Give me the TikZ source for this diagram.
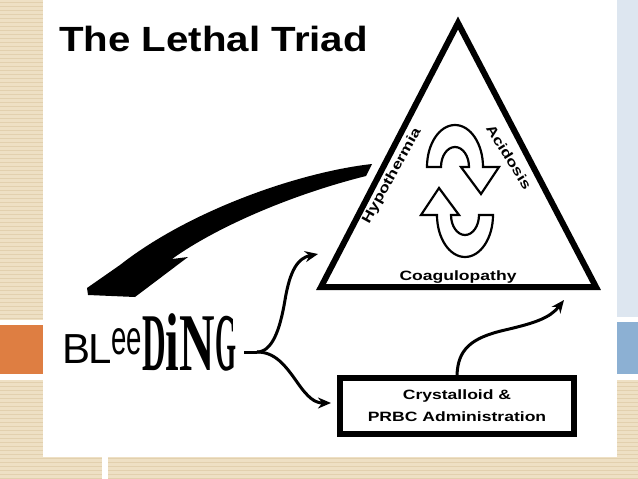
\documentclass[tikz,border=0pt]{standalone}
\usepackage{fontspec}
\usepackage{graphicx}
\setmainfont{Liberation Sans}
\newfontfamily\spookyfont{Liberation Serif}
\newcommand{\wide}[1]{\scalebox{1.3}[1]{\bfseries #1}}
\usetikzlibrary{positioning, arrows.meta, calc}
\definecolor{slidebeige}{RGB}{238,224,196}
\definecolor{stripebeige}{RGB}{226,208,174}
\definecolor{paleblue}{RGB}{221,230,240}
\definecolor{slideblue}{RGB}{140,176,211}
\definecolor{slideorange}{RGB}{222,126,66}
\tikzset{
  triadtext/.style={inner sep=0, font=\fontsize{13.5}{22}\selectfont},
  flow/.style     ={line width=3pt, -{Stealth[length=13pt, width=11pt]}},
  wire/.style     ={line width=3pt},
  cyclearrow/.style={draw, line width=2.2pt, fill=white, line join=miter}
}

\begin{document}
\begin{tikzpicture}[x=1pt, y=-1pt]
  \useasboundingbox (0,0) rectangle (638,479);
  % slide background
  \fill[slidebeige] (0,0) rectangle (638,479);
  \foreach \y in {2,6,...,478}
    \draw[stripebeige, line width=1pt] (0,\y) -- (638,\y);
  \fill[paleblue] (617,0) rectangle (638,317);
  \fill[white] (617,317) rectangle (638,322);
  \fill[white] (0,320) rectangle (43,325);
  \fill[slideblue] (617,322) rectangle (638,374);
  \fill[slideorange] (0,325) rectangle (43,374);
  \fill[white] (0,374) rectangle (43,380);
  \fill[white] (617,374) rectangle (638,380);
  \fill[white] (102,456) rectangle (108,479);
  \fill[white] (43,0) rectangle (617,457);

  % title
  \node[anchor=base west, inner sep=0, font=\fontsize{35}{40}\selectfont]
    (title) at (59,52) {\scalebox{1.15}[1]{\bfseries The Lethal Triad}};

  % triangle
  \coordinate (apex) at (458,23);
  \coordinate (bl)   at (321,287);
  \coordinate (br)   at (596,287);
  \draw[line width=6pt, line join=miter] (apex) -- (bl) -- (br) -- cycle;

  \node[triadtext, rotate=61]  (hypo) at (392,176) {\wide{Hypothermia}};
  \node[triadtext, rotate=-58] (acid) at (509,157) {\wide{Acidosis}};
  \node[triadtext, anchor=base] (coag) at (458,280) {\wide{Coagulopathy}};

  % cycle arrows
  \draw[cyclearrow] (427,167) arc[start angle=180, end angle=360, x radius=28, y radius=42]
    -- (499,167) -- (481,194) -- (461,167) -- (469,167)
    arc[start angle=360, end angle=180, x radius=14, y radius=20] -- cycle;
  \begin{scope}[rotate around={180:(460,191)}]
    \draw[cyclearrow] (427,167) arc[start angle=180, end angle=360, x radius=28, y radius=42]
      -- (499,167) -- (481,194) -- (461,167) -- (469,167)
      arc[start angle=360, end angle=180, x radius=14, y radius=20] -- cycle;
  \end{scope}

  % big black arrow back to bleeding
  \fill (372,164) .. controls (300,172) and (190,210) .. (120,265) -- (87,288) -- (88,295)
    -- (135,297) -- (188,257) -- (172,259) .. controls (215,228) and (290,195) .. (366,176) -- cycle;

  % bleeding
  \node[anchor=base west, inner sep=0] (bleed) at (62,363)
    {\fontsize{42}{42}\selectfont B\kern-2pt L%
     \raisebox{9pt}{\scalebox{0.6}[1.05]{\fontsize{46}{46}\selectfont ee}}%
     \raisebox{-7pt}{\spookyfont\bfseries\fontsize{82}{82}\selectfont
       \scalebox{0.4}[1]{D}\scalebox{0.6}[1]{i}\scalebox{0.6}[1]{N}\scalebox{0.33}[1]{G}}};

  % administration box
  \node[draw, line width=6pt, minimum width=234pt, minimum height=56pt, align=center,
        triadtext] (admin) at (457,406) {\wide{Crystalloid \&}\\\wide{PRBC Administration}};

  % connectors
  \coordinate (fork)   at (257,352);
  \coordinate (upTip)  at (318,254);
  \coordinate (lowTip) at (331,403);
  \coordinate (boxTip) at (564,300);
  \draw[wire] ($(bleed.east |- fork)+(8,0)$) -- (fork);
  \draw[flow] (fork) .. controls (272,352) and (280,330) .. (285,300)
    .. controls (290,270) and (298,258) .. (upTip);
  \draw[flow] (fork) .. controls (275,352) and (285,365) .. (297,382)
    .. controls (308,398) and (315,403) .. (lowTip);
  \draw[flow] (admin.north) .. controls (458,350) and (470,338) .. (505,330)
    .. controls (535,323) and (550,318) .. (boxTip);
\end{tikzpicture}
\end{document}
